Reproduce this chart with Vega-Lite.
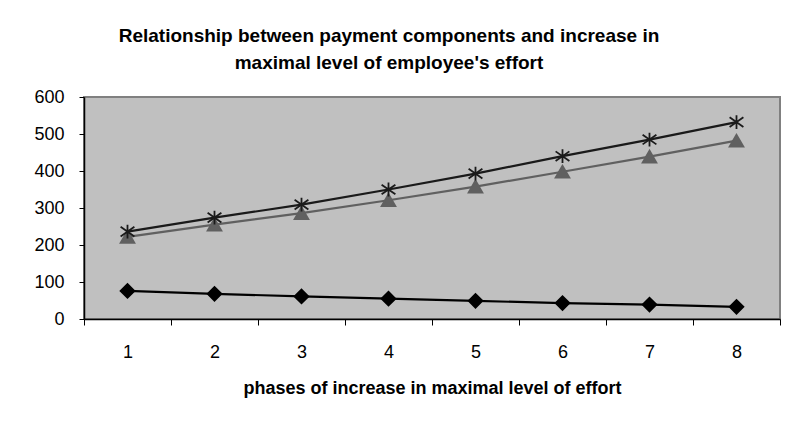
{
  "$schema": "https://vega.github.io/schema/vega-lite/v6.json",
  "autosize": {"type": "none"},
  "width": 696,
  "height": 222,
  "padding": {"left": 84, "top": 97, "right": 8, "bottom": 106},
  "background": "white",
  "title": {
    "text": ["Relationship between payment components and increase in", "maximal level of employee's effort"],
    "font": "Liberation Sans",
    "fontSize": 19,
    "fontWeight": "bold",
    "color": "black",
    "anchor": "middle",
    "frame": "group",
    "dx": -43,
    "offset": 15,
    "lineHeight": 27
  },
  "config": {
    "view": {"fill": "#c0c0c0", "stroke": "#808080", "strokeWidth": 2},
    "axis": {"labelFont": "Liberation Sans", "titleFont": "Liberation Sans", "labelColor": "black", "titleColor": "black", "domainColor": "black", "tickColor": "black", "grid": false}
  },
  "data": {
    "values": [
      {"phase": 1, "series": "fixed", "value": 76},
      {"phase": 2, "series": "fixed", "value": 68},
      {"phase": 3, "series": "fixed", "value": 61},
      {"phase": 4, "series": "fixed", "value": 55},
      {"phase": 5, "series": "fixed", "value": 49},
      {"phase": 6, "series": "fixed", "value": 43},
      {"phase": 7, "series": "fixed", "value": 39},
      {"phase": 8, "series": "fixed", "value": 33},
      {"phase": 1, "series": "variable", "value": 222},
      {"phase": 2, "series": "variable", "value": 255},
      {"phase": 3, "series": "variable", "value": 286},
      {"phase": 4, "series": "variable", "value": 321},
      {"phase": 5, "series": "variable", "value": 358},
      {"phase": 6, "series": "variable", "value": 398},
      {"phase": 7, "series": "variable", "value": 439},
      {"phase": 8, "series": "variable", "value": 482},
      {"phase": 1, "series": "total", "value": 236},
      {"phase": 2, "series": "total", "value": 274},
      {"phase": 3, "series": "total", "value": 309},
      {"phase": 4, "series": "total", "value": 350},
      {"phase": 5, "series": "total", "value": 393},
      {"phase": 6, "series": "total", "value": 440},
      {"phase": 7, "series": "total", "value": 485},
      {"phase": 8, "series": "total", "value": 532}
    ]
  },
  "encoding": {
    "x": {
      "field": "phase", "type": "ordinal",
      "scale": {"type": "band", "paddingInner": 0, "paddingOuter": 0},
      "axis": {"title": "phases of increase in maximal level of effort", "labelAngle": 0, "labelFontSize": 18, "titleFontSize": 18, "titleFontWeight": "bold", "tickBand": "extent", "tickSize": 6, "labelPadding": 18, "titlePadding": 18, "domainWidth": 1.5}
    },
    "y": {
      "field": "value", "type": "quantitative",
      "scale": {"domain": [0, 600], "nice": false},
      "axis": {"title": null, "values": [0, 100, 200, 300, 400, 500, 600], "labelFontSize": 18, "tickSize": 5, "labelPadding": 15, "domainWidth": 1.5}
    }
  },
  "layer": [
    {
      "mark": {"type": "line", "strokeWidth": 2.2},
      "encoding": {
        "color": {"field": "series", "type": "nominal", "legend": null,
          "scale": {"domain": ["fixed", "variable", "total"], "range": ["#000000", "#606060", "#1a1a1a"]}},
        "order": {"field": "phase", "type": "quantitative"}
      }
    },
    {
      "mark": {"type": "point", "filled": true, "strokeWidth": 1.8, "opacity": 1},
      "encoding": {
        "shape": {"field": "series", "type": "nominal", "legend": null,
          "scale": {"domain": ["fixed", "variable", "total"], "range": ["diamond", "triangle-up", "M-1,-0.7L1,0.7M-1,0.7L1,-0.7M0,-1L0,1"]}},
        "fill": {"field": "series", "type": "nominal", "legend": null,
          "scale": {"domain": ["fixed", "variable", "total"], "range": ["#000000", "#606060", "transparent"]}},
        "stroke": {"field": "series", "type": "nominal", "legend": null,
          "scale": {"domain": ["fixed", "variable", "total"], "range": ["#000000", "#606060", "#1a1a1a"]}},
        "size": {"value": 190}
      }
    }
  ]
}
